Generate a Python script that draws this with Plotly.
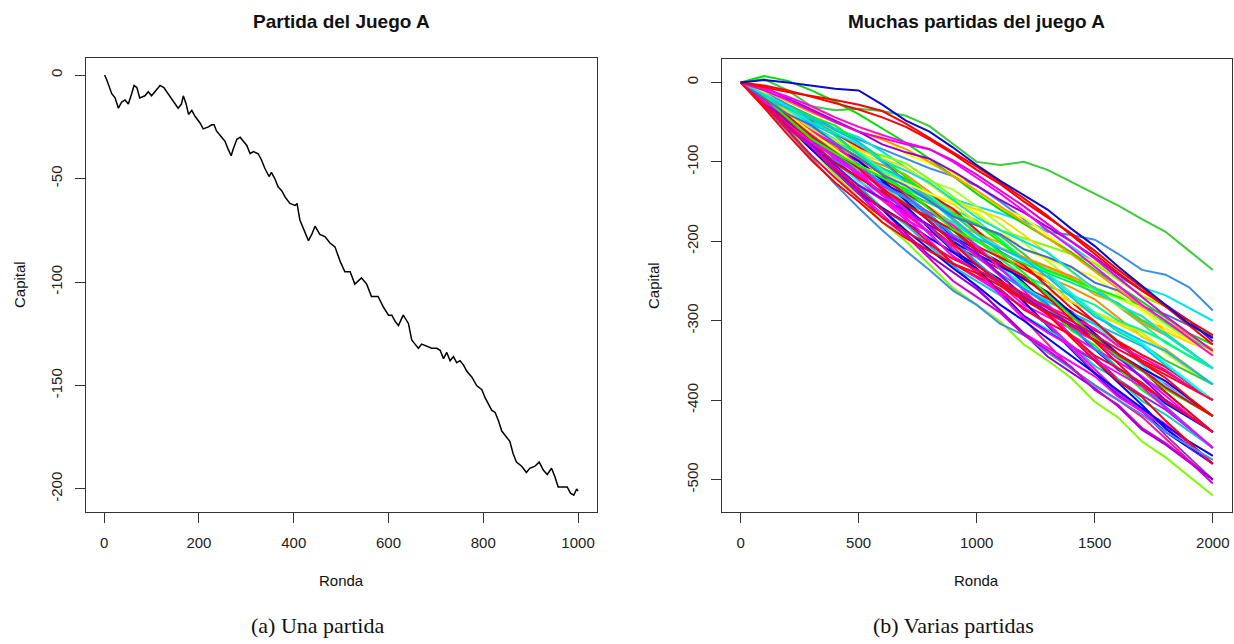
import plotly.graph_objects as go

W, H = 1234, 644

# ---- (a) Una partida del juego A: capital frente a la ronda ----
ronda_a = [1, 5, 16, 23, 30, 37, 44, 51, 58, 63,
           69, 75, 86, 93, 100, 111, 118, 126, 135, 146,
           156, 163, 167, 173, 178, 185, 192, 202, 209, 220,
           227, 232, 237, 248, 255, 262, 268, 272, 280, 287,
           294, 301, 308, 315, 325, 332, 339, 348, 353, 360,
           367, 375, 382, 392, 403, 407, 413, 420, 431, 438,
           445, 455, 466, 476, 487, 498, 508, 519, 529, 543,
           554, 564, 578, 589, 600, 607, 614, 621, 631, 642,
           649, 656, 663, 670, 680, 691, 702, 709, 716, 723,
           730, 737, 744, 751, 758, 765, 776, 786, 797, 804,
           811, 818, 825, 832, 839, 846, 856, 863, 870, 881,
           891, 898, 909, 918, 927, 935, 944, 951, 958, 969,
           977, 984, 991, 997, 1000]
capital_a = [0, -2, -9, -11, -16, -13, -12, -14, -9, -5,
             -6, -11, -10, -8, -10, -7, -5, -6, -9, -13,
             -16, -14, -10, -14, -19, -17, -20, -23, -26, -25,
             -24, -24, -27, -30, -32, -36, -39, -36, -31, -30,
             -32, -34, -38, -37, -38, -41, -45, -49, -47, -50,
             -54, -56, -59, -62, -63, -62, -70, -74, -80, -77,
             -73, -77, -78, -81, -83, -90, -95, -95, -101, -98,
             -101, -107, -107, -112, -116, -116, -119, -121, -116, -120,
             -128, -130, -132, -130, -131, -132, -132, -133, -137, -134,
             -138, -136, -139, -138, -140, -143, -146, -150, -152, -156,
             -159, -162, -163, -167, -172, -174, -177, -183, -187, -189,
             -192, -190, -189, -187, -191, -193, -190, -194, -199, -199,
             -199, -202, -203, -200, -201]

ticks_x_a = [0, 200, 400, 600, 800, 1000]
ticks_y_a = [0, -50, -100, -150, -200]

# ---- (b) Varias partidas: capital cada 100 rondas ----
rondas_b = [0, 100, 200, 300, 400, 500, 600, 700, 800, 900, 1000,
            1100, 1200, 1300, 1400, 1500, 1600, 1700, 1800, 1900, 2000]

partidas_b = [
    [0, 4, -10, -30, -35, -33, -36, -42, -55, -78, -100, -104, -100, -110, -125, -140, -155, -172, -188, -212, -236],
    [0, -12, -28, -42, -58, -72, -84, -96, -108, -118, -130, -150, -172, -188, -192, -198, -216, -236, -242, -258, -287],
    [0, -17, -35, -48, -58, -69, -87, -107, -128, -147, -156, -165, -175, -186, -206, -227, -246, -258, -268, -284, -300],
    [0, -24, -48, -66, -92, -115, -140, -158, -182, -205, -220, -235, -258, -272, -288, -312, -326, -350, -364, -382, -400],
    [0, -13, -32, -54, -76, -89, -100, -111, -124, -135, -156, -179, -202, -225, -248, -261, -272, -285, -304, -324, -340],
    [0, -20, -47, -74, -93, -110, -126, -142, -168, -194, -210, -226, -252, -280, -308, -336, -362, -380, -404, -422, -440],
    [0, -24, -48, -71, -86, -99, -110, -123, -146, -171, -196, -219, -232, -245, -258, -273, -296, -320, -336, -358, -380],
    [0, -21, -34, -49, -62, -85, -108, -133, -158, -183, -198, -223, -248, -263, -276, -289, -302, -315, -338, -359, -380],
    [0, -18, -44, -69, -96, -123, -148, -173, -188, -203, -228, -255, -280, -295, -310, -325, -348, -363, -380, -402, -420],
    [0, -18, -36, -53, -72, -91, -110, -139, -158, -177, -206, -235, -254, -283, -312, -331, -360, -387, -408, -435, -460],
    [0, -25, -51, -72, -90, -109, -135, -163, -192, -219, -236, -253, -271, -290, -318, -347, -374, -394, -412, -436, -460],
    [0, -24, -48, -75, -100, -125, -140, -155, -172, -187, -204, -231, -258, -275, -290, -305, -330, -355, -382, -401, -420],
    [0, -21, -48, -78, -108, -129, -148, -167, -188, -207, -236, -267, -298, -329, -360, -381, -400, -421, -448, -476, -500],
    [0, -21, -42, -57, -80, -100, -122, -137, -158, -178, -190, -202, -222, -233, -246, -267, -278, -299, -310, -325, -340],
    [0, -15, -38, -60, -84, -108, -130, -152, -164, -176, -198, -222, -244, -256, -268, -280, -300, -312, -326, -345, -360],
    [0, -22, -51, -80, -101, -120, -138, -156, -184, -212, -230, -248, -276, -306, -336, -366, -394, -414, -440, -460, -480],
    [0, -27, -54, -80, -98, -114, -128, -144, -170, -198, -226, -252, -268, -284, -300, -318, -344, -371, -390, -415, -440],
    [0, -11, -22, -32, -44, -56, -68, -90, -102, -114, -136, -158, -170, -192, -214, -226, -248, -268, -282, -302, -320],
    [0, -22, -45, -63, -78, -94, -117, -142, -168, -192, -206, -220, -235, -251, -276, -302, -326, -343, -358, -379, -400],
    [0, -22, -44, -71, -92, -113, -140, -160, -182, -211, -240, -263, -284, -305, -335, -365, -392, -413, -444, -472, -500],
    [0, -21, -42, -62, -74, -84, -92, -102, -122, -144, -166, -186, -196, -206, -216, -228, -248, -269, -282, -301, -320],
    [0, -22, -36, -52, -66, -90, -114, -140, -166, -192, -208, -234, -260, -276, -290, -304, -318, -332, -356, -378, -400],
    [0, -21, -50, -78, -108, -138, -166, -194, -212, -230, -258, -288, -316, -334, -352, -370, -396, -414, -434, -459, -480],
    [0, -21, -42, -66, -88, -110, -122, -134, -148, -160, -174, -198, -222, -236, -248, -260, -282, -304, -328, -344, -360],
    [0, -15, -36, -60, -84, -99, -112, -125, -140, -153, -176, -201, -226, -251, -276, -291, -304, -319, -340, -362, -380],
    [0, -19, -38, -62, -80, -98, -122, -139, -158, -184, -210, -230, -248, -266, -293, -320, -344, -362, -390, -415, -440],
    [0, -23, -47, -66, -82, -99, -123, -149, -176, -201, -216, -231, -247, -264, -290, -317, -342, -360, -376, -398, -420],
    [0, -27, -54, -75, -104, -130, -158, -179, -206, -232, -250, -268, -294, -311, -330, -357, -374, -401, -418, -439, -460],
    [0, -18, -42, -69, -96, -114, -130, -146, -164, -180, -206, -234, -262, -290, -318, -336, -352, -370, -394, -419, -440],
    [0, -17, -41, -65, -81, -95, -108, -121, -144, -167, -180, -193, -216, -241, -266, -291, -314, -329, -350, -365, -380],
    [0, -23, -46, -68, -82, -94, -104, -116, -138, -162, -186, -208, -220, -232, -244, -258, -280, -303, -318, -339, -360],
    [0, -30, -60, -84, -116, -145, -176, -200, -230, -259, -280, -301, -330, -350, -372, -402, -422, -452, -472, -496, -520],
    [0, -16, -32, -47, -64, -81, -98, -125, -142, -159, -186, -213, -230, -257, -284, -301, -328, -353, -372, -397, -420],
    [0, -20, -40, -65, -84, -103, -128, -146, -166, -193, -220, -241, -260, -279, -307, -335, -360, -379, -408, -434, -460],
    [0, -19, -30, -43, -54, -75, -96, -119, -142, -165, -178, -201, -224, -237, -248, -259, -270, -281, -302, -321, -340],
    [0, -27, -54, -84, -112, -140, -158, -176, -196, -214, -234, -264, -294, -314, -332, -350, -378, -406, -436, -458, -480],
    [0, -17, -42, -66, -92, -118, -142, -166, -180, -194, -218, -244, -268, -282, -296, -310, -332, -346, -362, -383, -400],
    [0, -17, -34, -56, -72, -88, -110, -125, -142, -166, -190, -208, -224, -240, -265, -290, -312, -328, -354, -377, -400],
    [0, -15, -37, -59, -73, -85, -96, -107, -128, -149, -160, -171, -192, -215, -238, -261, -282, -295, -314, -327, -340],
    [0, -20, -48, -74, -102, -120, -138, -154, -170, -186, -212, -228, -244, -270, -298, -326, -354, -382, -400, -420, -440],
    [0, -25, -50, -78, -104, -130, -146, -162, -180, -196, -214, -242, -270, -288, -304, -320, -346, -372, -400, -420, -440],
    [0, -20, -33, -46, -67, -90, -114, -138, -152, -166, -190, -214, -228, -240, -252, -264, -278, -300, -316, -338, -360],
    [0, -26, -53, -75, -94, -114, -141, -170, -200, -228, -246, -264, -283, -303, -332, -362, -390, -411, -430, -455, -480],
    [0, -28, -56, -79, -108, -137, -160, -190, -218, -239, -260, -287, -316, -345, -365, -385, -408, -437, -456, -478, -500],
    [0, -26, -55, -84, -110, -134, -160, -186, -210, -234, -256, -280, -300, -322, -344, -366, -388, -410, -432, -452, -470],
    [0, -27, -54, -82, -108, -134, -160, -176, -202, -228, -244, -260, -286, -302, -318, -344, -360, -378, -402, -420, -440],
    [0, -16, -32, -45, -60, -75, -100, -125, -148, -173, -196, -209, -222, -245, -270, -295, -310, -325, -338, -359, -380],
    [0, -25, -42, -61, -78, -105, -132, -161, -190, -219, -238, -267, -296, -315, -332, -349, -366, -383, -410, -435, -460],
    [0, -20, -40, -63, -84, -105, -116, -127, -140, -151, -164, -187, -210, -223, -234, -245, -266, -287, -310, -325, -340],
    [0, -21, -42, -68, -88, -108, -134, -153, -174, -202, -230, -252, -272, -292, -321, -350, -376, -396, -426, -453, -480],
    [0, -19, -45, -71, -89, -105, -120, -135, -160, -185, -200, -215, -240, -267, -294, -321, -346, -363, -386, -403, -420],
    [0, -20, -40, -54, -76, -95, -116, -130, -150, -169, -180, -191, -210, -220, -232, -252, -262, -282, -292, -306, -320],
    [0, -15, -30, -50, -64, -78, -98, -111, -126, -148, -170, -186, -200, -214, -237, -260, -280, -294, -318, -339, -360],
    [0, -30, -62, -95, -128, -158, -186, -212, -236, -262, -280, -304, -318, -340, -360, -382, -400, -418, -440, -458, -475],
    [0, -29, -58, -81, -112, -140, -170, -193, -222, -250, -270, -290, -318, -337, -358, -387, -406, -435, -454, -477, -505],
    [0, 8, 2, -10, -24, -40, -58, -76, -96, -118, -140, -160, -178, -196, -214, -236, -256, -276, -296, -316, -330],
    [0, -10, -24, -38, -50, -62, -72, -84, -100, -118, -136, -156, -176, -196, -216, -238, -260, -282, -300, -318, -336],
    [0, -6, -20, -34, -48, -62, -78, -88, -96, -112, -130, -148, -164, -182, -200, -220, -242, -262, -280, -300, -326],
    [0, -32, -66, -98, -126, -150, -176, -196, -212, -228, -240, -256, -274, -290, -306, -324, -342, -362, -384, -402, -420],
    [0, -28, -60, -92, -120, -146, -170, -188, -204, -222, -236, -250, -266, -284, -300, -318, -336, -352, -368, -384, -400],
    [0, -8, -18, -30, -44, -56, -66, -76, -84, -100, -120, -140, -162, -186, -208, -232, -256, -280, -300, -322, -344],
    [0, -10, -22, -36, -50, -62, -70, -78, -84, -98, -116, -136, -156, -178, -200, -222, -246, -270, -294, -316, -338],
    [0, -4, -10, -18, -26, -34, -44, -56, -72, -90, -110, -128, -150, -170, -190, -212, -236, -258, -282, -306, -330],
    [0, -6, -12, -17, -22, -28, -36, -52, -70, -88, -106, -126, -146, -168, -192, -216, -240, -262, -282, -300, -318],
    [0, 3, 0, -4, -8, -10, -28, -48, -62, -82, -104, -124, -142, -160, -184, -206, -232, -256, -280, -304, -322],
]

# one colour per game, in the same order as partidas_b
colores_b = [
    "#3BCB3B", "#3D8FE0", "#00E5E5", "#FF0000", "#ADFF2F",
    "#0000FF", "#FF8C00", "#E6E600", "#FF00FF", "#00FF00",
    "#8A2BE2", "#00FFFF", "#FF1493", "#FFA500", "#00FA9A",
    "#0000CD", "#1E90FF", "#FFFF00", "#FF0000", "#9932CC",
    "#7FFF00", "#00BFFF", "#FF00FF", "#00FF7F", "#E6E600",
    "#FF0000", "#0000FF", "#00CED1", "#FF00FF", "#32CD32",
    "#FF8C00", "#7CFC00", "#FF0000", "#1E90FF", "#00FF00",
    "#0000FF", "#FF00CC", "#00FFFF", "#FFD700", "#FF0000",
    "#8000FF", "#00E676", "#FF00FF", "#9400D3", "#0000FF",
    "#FF0033", "#00BFFF", "#FF00FF", "#FFFF00", "#FF0000",
    "#00FF00", "#4169E1", "#00E5E5", "#3D8FE0", "#CC00CC",
    "#00DD00", "#FF9900", "#9400D3", "#FF0000", "#FF0033",
    "#FF00FF", "#E600E6", "#FF0000", "#FF0000", "#0A0AD0",
]

ticks_x_b = [0, 500, 1000, 1500, 2000]
ticks_y_b = [0, -100, -200, -300, -400, -500]


def rango_r(valores):
    """Axis limits with the 4% padding used by R's base graphics."""
    lo, hi = min(valores), max(valores)
    pad = 0.04 * (hi - lo)
    return [lo - pad, hi + pad]


SANS = "Liberation Sans, Arial, sans-serif"
SERIF = "Liberation Serif, Times New Roman, serif"

fig = go.Figure()

fig.add_trace(go.Scatter(
    x=ronda_a, y=capital_a, mode="lines",
    line=dict(color="black", width=1.5),
    xaxis="x", yaxis="y", showlegend=False, hoverinfo="skip",
))

for serie, color in zip(partidas_b, colores_b):
    fig.add_trace(go.Scatter(
        x=rondas_b, y=serie, mode="lines",
        line=dict(color=color, width=2),
        xaxis="x2", yaxis="y2", showlegend=False, hoverinfo="skip",
    ))

eje = dict(
    showline=True, mirror=True, linecolor="#333333", linewidth=1,
    ticks="outside", ticklen=10, tickwidth=1, tickcolor="#333333",
    showgrid=False, zeroline=False,
    tickfont=dict(family=SANS, size=15, color="#222222"),
)


def etiquetas(vals):
    return [str(v) for v in vals]


todos_b = [v for serie in partidas_b for v in serie]

fig.update_layout(
    width=W, height=H,
    margin=dict(l=0, r=0, t=0, b=0),
    paper_bgcolor="white", plot_bgcolor="white",
    font=dict(family=SANS, size=15, color="#222222"),
    xaxis=dict(eje, domain=[85.7 / W, 597 / W], anchor="y",
               range=rango_r(ronda_a), tickvals=ticks_x_a,
               ticktext=etiquetas(ticks_x_a), ticklabelstandoff=7),
    yaxis=dict(eje, domain=[1 - 512 / H, 1 - 58.3 / H], anchor="x",
               range=rango_r(capital_a), tickvals=ticks_y_a,
               ticktext=etiquetas(ticks_y_a), tickangle=-90,
               ticklabelstandoff=7),
    xaxis2=dict(eje, domain=[721.7 / W, 1231.7 / W], anchor="y2",
                range=rango_r(rondas_b), tickvals=ticks_x_b,
                ticktext=etiquetas(ticks_x_b), ticklabelstandoff=7),
    yaxis2=dict(eje, domain=[1 - 512.3 / H, 1 - 59.3 / H], anchor="x2",
                range=rango_r(todos_b), tickvals=ticks_y_b,
                ticktext=etiquetas(ticks_y_b), tickangle=-90,
                ticklabelstandoff=7),
)


def texto(px, py, t, size, family=SANS, angle=0):
    fig.add_annotation(
        x=px / W, y=1 - py / H, xref="paper", yref="paper",
        text=t, showarrow=False, xanchor="center", yanchor="middle",
        textangle=angle, font=dict(family=family, size=size, color="#111111"),
    )


# titles
texto(341, 21, "<b>Partida del Juego A</b>", 19)
texto(976.7, 21, "<b>Muchas partidas del juego A</b>", 19)
# axis titles
texto(341, 580, "Ronda", 15)
texto(976.7, 580, "Ronda", 15)
texto(19, 285, "Capital", 15, angle=-90)
texto(653, 286, "Capital", 15, angle=-90)
# subfigure captions
texto(318, 625, "(a) Una partida", 22, family=SERIF)
texto(953, 625, "(b) Varias partidas", 22, family=SERIF)

fig.write_html("out.html")
